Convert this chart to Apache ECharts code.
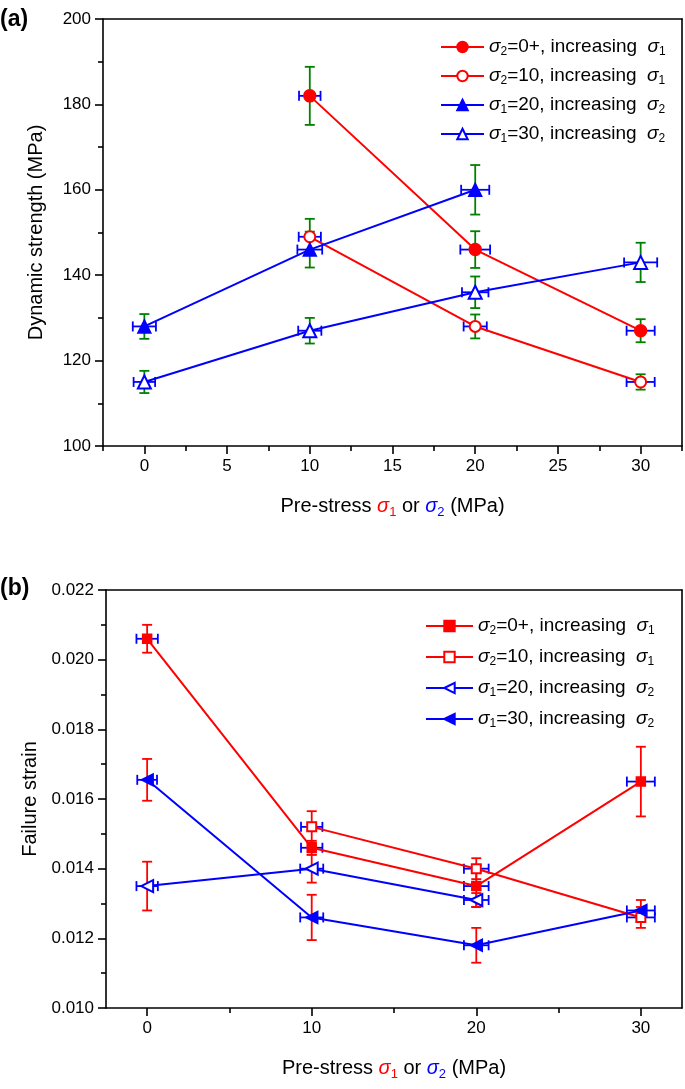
<!DOCTYPE html>
<html><head><meta charset="utf-8">
<script src="https://cdn.jsdelivr.net/npm/echarts@6/dist/echarts.min.js"></script>
<style>html,body{margin:0;padding:0;background:#fff}#c{width:685px;height:1089px}</style>
</head><body><div id="c"></div>
<script>
// ---------- Panel (a): dynamic strength (MPa) ----------
const aNames = ['σ2=0+, increasing  σ1', 'σ2=10, increasing  σ1', 'σ1=20, increasing  σ2', 'σ1=30, increasing  σ2'];
const aX1 = [10, 20, 30];      const aY1 = [182, 146, 127];      const aYe1 = [6.8, 4.3, 2.7];      const aXe1 = [0.65, 0.9, 0.85];
const aX2 = [10, 20, 30];      const aY2 = [149, 128, 115];      const aYe2 = [4.2, 2.8, 1.8];      const aXe2 = [0.67, 0.7, 0.85];
const aX3 = [0, 10, 20];       const aY3 = [128, 146, 160];      const aYe3 = [2.9, 4.2, 5.8];      const aXe3 = [0.7, 0.75, 0.85];
const aX4 = [0, 10, 20, 30];   const aY4 = [115, 127, 136, 143]; const aYe4 = [2.6, 3.0, 3.7, 4.6]; const aXe4 = [0.65, 0.7, 0.8, 1.0];
const aXTicks = [0, 5, 10, 15, 20, 25, 30];
const aXMinor = [-2.5, 2.5, 7.5, 12.5, 17.5, 22.5, 27.5, 32.5];

// ---------- Panel (b): failure strain ----------
const bNames = ['σ2=0+, increasing  σ1', 'σ2=10, increasing  σ1', 'σ1=20, increasing  σ2', 'σ1=30, increasing  σ2'];
const bX1 = [0, 10, 20, 30];   const bY1 = [0.0206, 0.0146, 0.0135, 0.0165];  const bYe1 = [0.0004, 0.0002, 0.0006, 0.001];   const bXe1 = [0.65, 0.65, 0.75, 0.85];
const bX2 = [10, 20, 30];      const bY2 = [0.0152, 0.0140, 0.0126];          const bYe2 = [0.00045, 0.0003, 0.0003];         const bXe2 = [0.65, 0.75, 0.85];
const bX3 = [0, 10, 20];       const bY3 = [0.0135, 0.0140, 0.0131];          const bYe3 = [0.0007, 0.0004, 0.0002];          const bXe3 = [0.65, 0.7, 0.75];
const bX4 = [0, 10, 20, 30];   const bY4 = [0.01655, 0.0126, 0.0118, 0.0128]; const bYe4 = [0.0006, 0.00065, 0.0005, 0.0003]; const bXe4 = [0.6, 0.7, 0.75, 0.85];
const bXTicks = [0, 10, 20, 30];
const bXMinor = [5, 15, 25];

const RED = '#ff0000', BLUE = '#0000ff', GREEN = '#008000', FONT = 'Liberation Sans, Arial, sans-serif';

function pts(xs, ys) { return xs.map((x, i) => [x, ys[i]]); }
function errPts(xs, ys, xe, ye) { return xs.map((x, i) => [x, ys[i], xe[i], ye[i]]); }

function errRender(vColor, hColor) {
  return function (params, api) {
    const x = api.value(0), y = api.value(1), xe = api.value(2), ye = api.value(3);
    const t = api.coord([x, y + ye]), b = api.coord([x, y - ye]);
    const l = api.coord([x - xe, y]), r = api.coord([x + xe, y]);
    const c = 5;
    const vs = { stroke: vColor, lineWidth: 1.8 }, hs = { stroke: hColor, lineWidth: 1.8 };
    const ln = (x1, y1, x2, y2, s) => ({ type: 'line', shape: { x1, y1, x2, y2 }, style: s });
    return { type: 'group', children: [
      ln(t[0], t[1], b[0], b[1], vs), ln(t[0] - c, t[1], t[0] + c, t[1], vs), ln(b[0] - c, b[1], b[0] + c, b[1], vs),
      ln(l[0], l[1], r[0], r[1], hs), ln(l[0], l[1] - c, l[0], l[1] + c, hs), ln(r[0], r[1] - c, r[0], r[1] + c, hs)
    ]};
  };
}

function errSeries(xi, yi, data, vColor) {
  return { type: 'custom', xAxisIndex: xi, yAxisIndex: yi, data: data, encode: { x: 0, y: 1 },
    renderItem: errRender(vColor, BLUE), z: 2, silent: true };
}
function lineSeries(name, xi, yi, data, color, symbol, size, rot) {
  return { type: 'line', name: name, xAxisIndex: xi, yAxisIndex: yi, data: data,
    symbol: symbol, symbolSize: size, symbolRotate: rot || 0,
    lineStyle: { color: color, width: 2 }, itemStyle: { color: color, borderColor: color, borderWidth: 1.5 },
    z: 3, animation: false };
}

const richLegend = {
  i: { fontStyle: 'italic', fontSize: 19, fontFamily: FONT, lineHeight: 26 },
  sb: { fontSize: 12, fontFamily: FONT, padding: [12, 0, 0, 0], verticalAlign: 'top' }
};
function legendFmt(name) { return name.replace(/σ(\d)/g, '{i|σ}{sb|$1}'); }

const axisLineStyle = { color: '#000', width: 1.6 };
const labelStyle = { color: '#000', fontSize: 17, fontFamily: FONT };
const xNameRich = {
  r: { color: RED, fontStyle: 'italic', fontSize: 20, fontFamily: FONT, lineHeight: 28 },
  rs: { color: RED, fontSize: 13, fontFamily: FONT, padding: [14, 0, 0, 0], verticalAlign: 'top' },
  b: { color: BLUE, fontStyle: 'italic', fontSize: 20, fontFamily: FONT, lineHeight: 28 },
  bs: { color: BLUE, fontSize: 13, fontFamily: FONT, padding: [14, 0, 0, 0], verticalAlign: 'top' }
};
const xName = 'Pre-stress {r|σ}{rs|1} or {b|σ}{bs|2} (MPa)';

function mainX(grid, ticks, nameGap) {
  return { type: 'value', gridIndex: grid, min: -2.5, max: 32.5, position: 'bottom',
    axisLine: { show: true, onZero: false, lineStyle: axisLineStyle },
    axisTick: { show: true, customValues: ticks, length: 8, lineStyle: { color: '#000', width: 1.6 } },
    axisLabel: { show: true, customValues: ticks, margin: 12, ...labelStyle },
    splitLine: { show: false },
    name: xName, nameLocation: 'middle', nameGap: nameGap,
    nameTextStyle: { color: '#000', fontSize: 20, fontFamily: FONT, lineHeight: 28, rich: xNameRich } };
}
function minorX(grid, ticks) {
  return { type: 'value', gridIndex: grid, min: -2.5, max: 32.5, position: 'bottom',
    axisLine: { show: false, onZero: false },
    axisTick: { show: true, customValues: ticks, length: 5, lineStyle: { color: '#000', width: 1.6 } },
    axisLabel: { show: false }, splitLine: { show: false } };
}
function topX(grid) {
  return { type: 'value', gridIndex: grid, min: -2.5, max: 32.5, position: 'top',
    axisLine: { show: true, onZero: false, lineStyle: axisLineStyle }, axisTick: { show: false },
    axisLabel: { show: false }, splitLine: { show: false } };
}
function mainY(grid, min, max, interval, name, nameGap, fmt) {
  return { type: 'value', gridIndex: grid, min: min, max: max, interval: interval, position: 'left',
    axisLine: { show: true, onZero: false, lineStyle: axisLineStyle },
    axisTick: { show: true, length: 8, lineStyle: { color: '#000', width: 1.6 } },
    minorTick: { show: true, splitNumber: 2, length: 5, lineStyle: { color: '#000', width: 1.6 } },
    axisLabel: { margin: 12, formatter: fmt, ...labelStyle },
    splitLine: { show: false }, minorSplitLine: { show: false },
    name: name, nameLocation: 'middle', nameRotate: 90, nameGap: nameGap,
    nameTextStyle: { color: '#000', fontSize: 20, fontFamily: FONT } };
}
function rightY(grid, min, max) {
  return { type: 'value', gridIndex: grid, min: min, max: max, position: 'right',
    axisLine: { show: true, onZero: false, lineStyle: axisLineStyle }, axisTick: { show: false },
    axisLabel: { show: false }, splitLine: { show: false } };
}

const option = {
  backgroundColor: '#fff',
  animation: false,
  grid: [
    { left: 103, top: 19, width: 579, height: 427 },
    { left: 106, top: 590, width: 576, height: 418 }
  ],
  xAxis: [
    mainX(0, aXTicks, 46), minorX(0, aXMinor), topX(0),
    mainX(1, bXTicks, 46), minorX(1, bXMinor), topX(1)
  ],
  yAxis: [
    mainY(0, 100, 200, 20, 'Dynamic strength (MPa)', 57, v => String(v)), rightY(0, 100, 200),
    mainY(1, 0.010, 0.022, 0.002, 'Failure strain', 62, v => v.toFixed(3)), rightY(1, 0.010, 0.022)
  ],
  legend: [
    { data: aNames, left: 440, top: 34, padding: 0, orient: 'vertical', itemWidth: 43, itemHeight: 13, itemGap: 3,
      formatter: legendFmt,
      textStyle: { color: '#000', fontSize: 19, fontFamily: FONT, lineHeight: 26, rich: richLegend } },
    { data: bNames.map(n => n + ' '), left: 425, top: 613, padding: 0, orient: 'vertical', itemWidth: 47, itemHeight: 13, itemGap: 5,
      formatter: legendFmt,
      textStyle: { color: '#000', fontSize: 19, fontFamily: FONT, lineHeight: 26, rich: richLegend } }
  ],
  graphic: [
    { type: 'text', left: 0, top: 8, style: { text: '(a)', fontSize: 23, fontWeight: 'bold', fontFamily: FONT, fill: '#000' } },
    { type: 'text', left: 0, top: 577, style: { text: '(b)', fontSize: 23, fontWeight: 'bold', fontFamily: FONT, fill: '#000' } }
  ],
  series: [
    errSeries(0, 0, errPts(aX1, aY1, aXe1, aYe1), GREEN),
    errSeries(0, 0, errPts(aX2, aY2, aXe2, aYe2), GREEN),
    errSeries(0, 0, errPts(aX3, aY3, aXe3, aYe3), GREEN),
    errSeries(0, 0, errPts(aX4, aY4, aXe4, aYe4), GREEN),
    lineSeries(aNames[0], 0, 0, pts(aX1, aY1), RED, 'circle', 12),
    lineSeries(aNames[1], 0, 0, pts(aX2, aY2), RED, 'emptyCircle', 11),
    lineSeries(aNames[2], 0, 0, pts(aX3, aY3), BLUE, 'triangle', 13),
    lineSeries(aNames[3], 0, 0, pts(aX4, aY4), BLUE, 'emptyTriangle', 13),

    errSeries(3, 2, errPts(bX1, bY1, bXe1, bYe1), RED),
    errSeries(3, 2, errPts(bX2, bY2, bXe2, bYe2), RED),
    errSeries(3, 2, errPts(bX3, bY3, bXe3, bYe3), RED),
    errSeries(3, 2, errPts(bX4, bY4, bXe4, bYe4), RED),
    lineSeries(bNames[0] + ' ', 3, 2, pts(bX1, bY1), RED, 'rect', 9),
    lineSeries(bNames[1] + ' ', 3, 2, pts(bX2, bY2), RED, 'emptyRect', 9),
    lineSeries(bNames[2] + ' ', 3, 2, pts(bX3, bY3), BLUE, 'emptyTriangle', 12, 90),
    lineSeries(bNames[3] + ' ', 3, 2, pts(bX4, bY4), BLUE, 'triangle', 12, 90)
  ]
};

const chart = echarts.init(document.getElementById('c'), null, { renderer: 'canvas' });
chart.setOption(option);
</script></body></html>
